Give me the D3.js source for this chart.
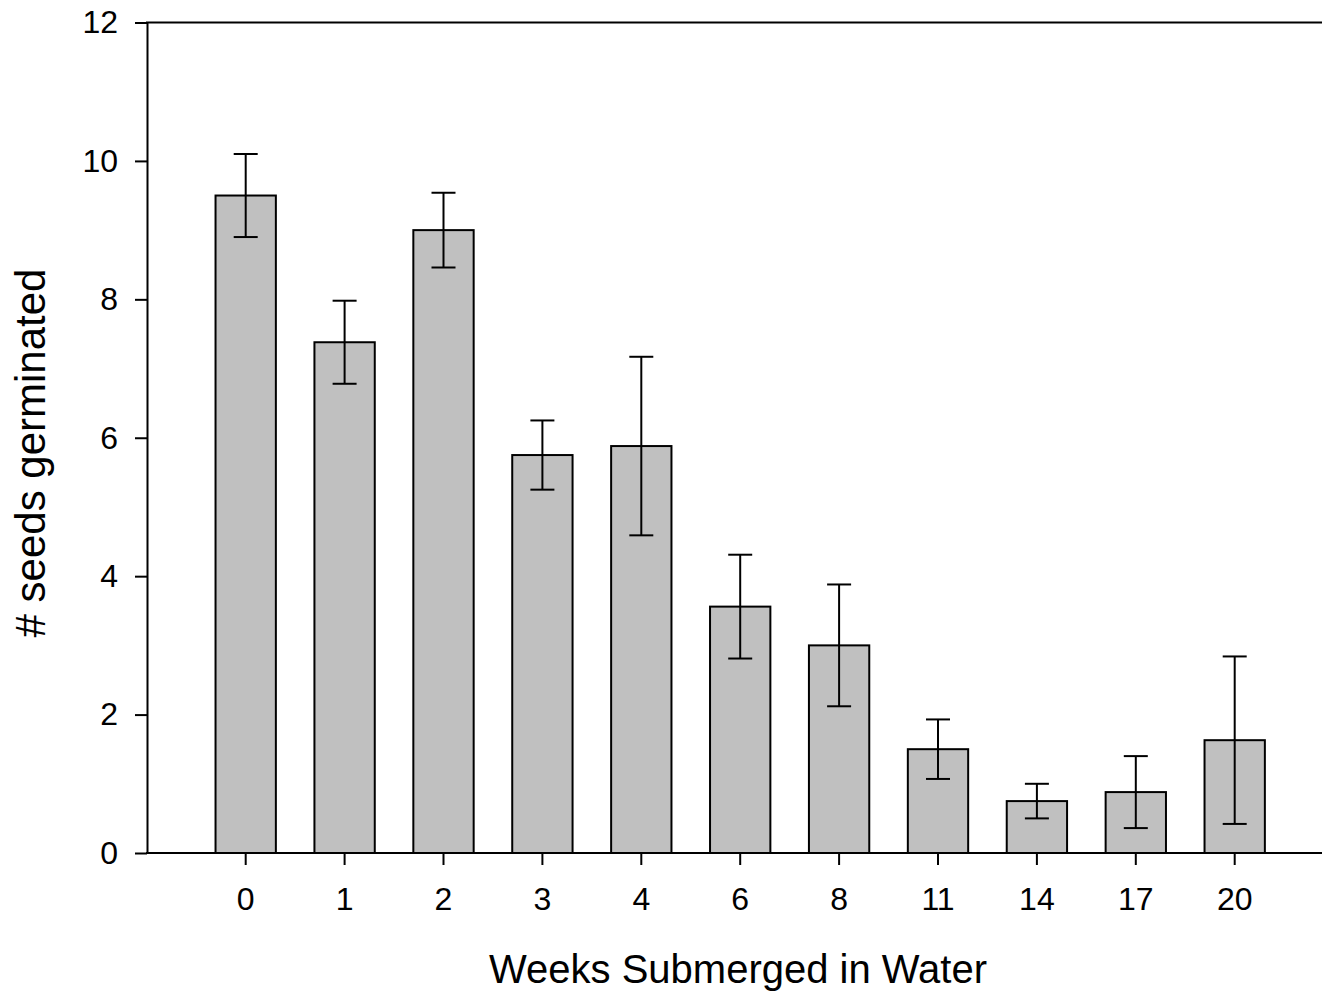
<!DOCTYPE html>
<meta charset="utf-8">

<body style="margin:0; background:#fff;">
  <style>
    text {
      font-family: "Liberation Sans", Arial, sans-serif;
      fill: #000;
    }
  </style>
  <div id="bar_chart"></div>
  <script src="https://d3js.org/d3.v7.min.js"></script>
  <script>
    var weeks = ["0", "1", "2", "3", "4", "6", "8", "11", "14", "17", "20"];
    var meanSeeds = [9.5, 7.38, 9.0, 5.75, 5.88, 3.56, 3.0, 1.5, 0.75, 0.88, 1.63];
    var errSeeds = [0.6, 0.6, 0.54, 0.5, 1.29, 0.75, 0.88, 0.43, 0.25, 0.52, 1.21];
    var yTicks = [0, 2, 4, 6, 8, 10, 12];

    var data = weeks.map(function(w, i) {
      return { name: w, value: meanSeeds[i], err: errSeeds[i] };
    });

    var width = 1322,
      height = 994;

    var svg = d3.select("#bar_chart")
      .append("svg")
      .attr("width", width)
      .attr("height", height);

    var x = d3.scaleBand()
      .domain(weeks)
      .range([196.25, 1284.15])
      .paddingInner(0.39)
      .paddingOuter(0.195);

    var y = d3.scaleLinear()
      .domain([0, 12])
      .range([853, 22.5]);

    // bars
    svg.selectAll("rect.bars")
      .data(data)
      .enter()
      .append("rect")
      .attr("class", "bars")
      .attr("x", function(d) { return x(d.name); })
      .attr("y", function(d) { return y(d.value); })
      .attr("width", x.bandwidth())
      .attr("height", function(d) { return y(0) - y(d.value); })
      .style("fill", "#c0c0c0")
      .style("stroke", "#000")
      .style("stroke-width", 2);

    // error bars
    var cap = 12;
    var errs = svg.selectAll("g.err")
      .data(data)
      .enter()
      .append("g")
      .attr("class", "err")
      .attr("transform", function(d) {
        return "translate(" + (x(d.name) + x.bandwidth() / 2) + ",0)";
      })
      .style("stroke", "#000")
      .style("stroke-width", 2);

    errs.append("line")
      .attr("y1", function(d) { return y(d.value + d.err); })
      .attr("y2", function(d) { return y(d.value - d.err); });
    errs.append("line")
      .attr("x1", -cap).attr("x2", cap)
      .attr("y1", function(d) { return y(d.value + d.err); })
      .attr("y2", function(d) { return y(d.value + d.err); });
    errs.append("line")
      .attr("x1", -cap).attr("x2", cap)
      .attr("y1", function(d) { return y(d.value - d.err); })
      .attr("y2", function(d) { return y(d.value - d.err); });

    // y axis
    var yAxis = svg.append("g")
      .attr("transform", "translate(147,0)")
      .call(d3.axisLeft(y).tickValues(yTicks).tickSize(12).tickSizeOuter(0).tickPadding(17));

    // x axis
    var xAxis = svg.append("g")
      .attr("transform", "translate(0,853)")
      .call(d3.axisBottom(x).tickSize(12).tickSizeOuter(0).tickPadding(22));
    xAxis.select(".domain").remove();

    [yAxis, xAxis].forEach(function(ax) {
      ax.selectAll("text")
        .style("font-size", "32px")
        .style("font-family", "'Liberation Sans', Arial, sans-serif");
      ax.selectAll("line, path").style("stroke", "#000").style("stroke-width", 2);
    });

    // frame lines at top and bottom
    svg.append("line")
      .attr("x1", 146).attr("x2", width)
      .attr("y1", y(0)).attr("y2", y(0))
      .style("stroke", "#000").style("stroke-width", 2);
    svg.append("line")
      .attr("x1", 146).attr("x2", width)
      .attr("y1", y(12)).attr("y2", y(12))
      .style("stroke", "#000").style("stroke-width", 2);

    // axis titles
    svg.append("text")
      .attr("x", 738)
      .attr("y", 983)
      .style("text-anchor", "middle")
      .style("font-size", "40px")
      .text("Weeks Submerged in Water");

    svg.append("text")
      .attr("transform", "rotate(-90)")
      .attr("x", -453)
      .attr("y", 45)
      .style("text-anchor", "middle")
      .style("font-size", "42px")
      .text("# seeds germinated");
  </script>
</body>
